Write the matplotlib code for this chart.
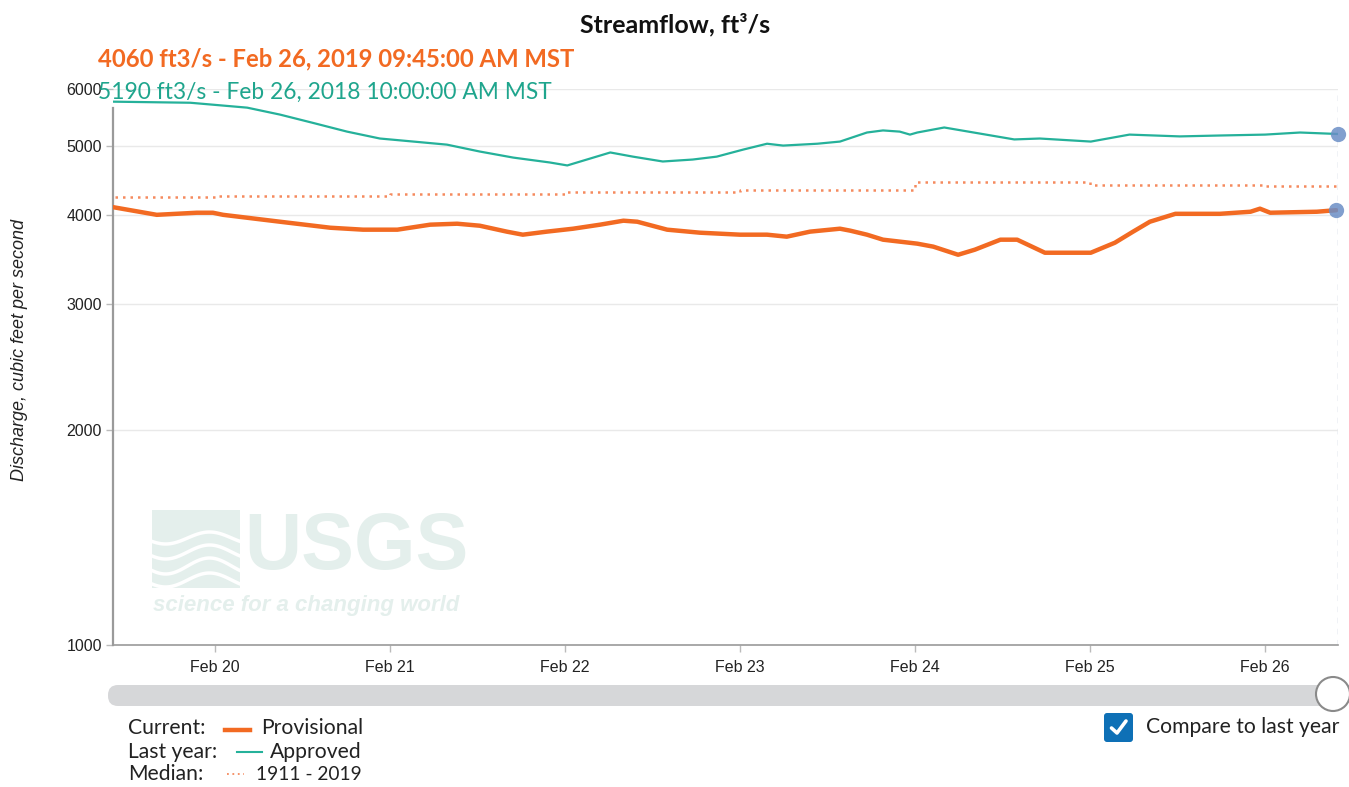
import numpy as np
import matplotlib
matplotlib.use('Agg')
import matplotlib.pyplot as plt
import matplotlib.dates as mdates
from matplotlib.ticker import FixedLocator, FixedFormatter, NullLocator
from matplotlib.patches import FancyBboxPatch, Circle, Rectangle
from matplotlib.lines import Line2D

W, H = 1349, 787

# ---------------- data ----------------
# hours since 2019-02-19 00:00 MST
current_hours = [10.0, 16.0, 21.5, 23.7, 25.1, 32.9, 39.8, 44.3, 49.0, 53.5, 57.2, 60.3,
                 64.0, 66.2, 69.5, 73.1, 76.8, 80.0, 81.9, 86.0, 90.5, 96.0, 99.7, 102.4,
                 105.6, 109.7, 111.1, 113.4, 115.6, 120.3, 122.5, 125.9, 128.2, 131.7, 134.0,
                 137.8, 144.1, 147.4, 149.9, 152.2, 155.7, 161.8, 166.0, 167.3, 168.7, 175.1,
                 177.75]
current_cfs = [4100, 4000, 4027, 4027, 4000, 3912, 3837, 3813, 3813, 3875, 3887, 3862,
               3789, 3752, 3789, 3825, 3875, 3925, 3912, 3813, 3776, 3752, 3752, 3728,
               3789, 3825, 3801, 3752, 3692, 3645, 3610, 3517, 3575, 3692, 3692,
               3540, 3540, 3656, 3789, 3912, 4013, 4013, 4040, 4080, 4027, 4040,
               4060]

lastyear_hours = [10.0, 20.6, 28.4, 32.9, 37.4, 42.1, 46.6, 51.2, 55.8, 60.3, 64.9, 69.9,
                  72.3, 78.2, 81.3, 85.4, 89.5, 92.8, 96.4, 99.7, 101.9, 106.6, 109.7,
                  113.4, 115.6, 117.9, 119.3, 120.3, 124.0, 133.6, 137.1, 144.1, 149.4,
                  156.3, 161.8, 168.0, 172.8, 178.0]
lastyear_cfs = [5760, 5740, 5650, 5525, 5380, 5230, 5115, 5065, 5015, 4905, 4810, 4735,
                4690, 4890, 4825, 4750, 4780, 4825, 4935, 5030, 5000, 5030, 5065,
                5215, 5250, 5230, 5180, 5215, 5300, 5100, 5115, 5065, 5180,
                5150, 5165, 5180, 5215, 5190]

median_days = ['2019-02-19', '2019-02-20', '2019-02-21', '2019-02-22', '2019-02-23',
               '2019-02-24', '2019-02-25', '2019-02-26', '2019-02-27']
median_cfs = [4230, 4250, 4280, 4310, 4340, 4440, 4410, 4395, 4395]

y_ticks = [1000, 2000, 3000, 4000, 5000, 6000]
y_tick_labels = ['1000', '2000', '3000', '4000', '5000', '6000']
x_tick_days = ['2019-02-20', '2019-02-21', '2019-02-22', '2019-02-23',
               '2019-02-24', '2019-02-25', '2019-02-26']

title_text = 'Streamflow, ft\u00b3/s'
current_label = '4060 ft3/s - Feb 26, 2019 09:45:00 AM MST'
lastyear_label = '5190 ft3/s - Feb 26, 2018 10:00:00 AM MST'

# ---------------- helpers ----------------
start = np.datetime64('2019-02-19T00:00')


def to_time(hours):
    return start + (np.array(hours) * 60).round().astype('timedelta64[m]')


def fx(x):
    return x / W


def fy(y):
    return 1 - y / H


ORANGE = '#f26a22'
TEAL = '#25b19a'
MEDIAN = '#f58a5e'

fig = plt.figure(figsize=(W / 100, H / 100), dpi=100)

# background overlay (pixel coordinates)
bg = fig.add_axes([0, 0, 1, 1], zorder=0)
bg.set_xlim(0, W)
bg.set_ylim(H, 0)
bg.axis('off')

# main axes
ax = fig.add_axes([fx(113), fy(645), (1338 - 113) / W, (645 - 89) / H], zorder=1)
ax.patch.set_alpha(0)

t_cur = to_time(current_hours)
t_last = to_time(lastyear_hours)
t_med = np.array(median_days, dtype='datetime64[m]')

ax.step(t_med, median_cfs, where='post', color=MEDIAN, lw=1.8,
        linestyle=(0, (1, 2.0)), zorder=2)
ax.plot(t_last, lastyear_cfs, color=TEAL, lw=1.6, zorder=3)
ax.plot(t_cur, current_cfs, color=ORANGE, lw=3.2, zorder=4, solid_capstyle='round')

t_end_cur = t_cur[-1]
t_end_last = t_last[-1]
ax.plot([t_end_last], [lastyear_cfs[-1]], 'o', ms=11, color='#6b8ec6', alpha=0.85,
        clip_on=False, zorder=5, mec='none')
ax.plot([t_end_cur], [current_cfs[-1]], 'o', ms=11, color='#6b8ec6', alpha=0.85,
        clip_on=False, zorder=5, mec='none')

x_left = to_time([10.0])[0]
x_right = to_time([178.0])[0]
ax.set_xlim(x_left, x_right)
ax.axvline(x_right, color='#b5c0d2', lw=1, linestyle=(0, (4, 4)), zorder=1)

ax.set_yscale('log')
ax.set_ylim(1000, 6000)
ax.yaxis.set_major_locator(FixedLocator(y_ticks))
ax.yaxis.set_major_formatter(FixedFormatter(y_tick_labels))
ax.yaxis.set_minor_locator(NullLocator())
ax.grid(axis='y', color='#e9e9e9', lw=1, zorder=0)

ax.xaxis.set_major_locator(FixedLocator(mdates.date2num(np.array(x_tick_days, dtype='datetime64[m]'))))
ax.xaxis.set_major_formatter(mdates.DateFormatter('%b %d'))

for s in ['top', 'right']:
    ax.spines[s].set_visible(False)
ax.spines['left'].set_color('#9a9a9a')
ax.spines['left'].set_linewidth(1.6)
ax.spines['left'].set_bounds(1000, 5650)
ax.spines['bottom'].set_color('#9a9a9a')
ax.spines['bottom'].set_linewidth(1.2)

ax.tick_params(axis='both', which='major', length=5, width=1, color='#bbbbbb',
               labelsize=11.5, labelcolor='#222222')
for lab in ax.get_xticklabels() + ax.get_yticklabels():
    lab.set_fontfamily(['Liberation Sans', 'DejaVu Sans'])
ax.tick_params(axis='x', pad=6)
ax.tick_params(axis='y', pad=3)

# ---------------- texts ----------------
fig.text(fx(675), fy(25), title_text, ha='center', va='center', fontsize=18,
         fontweight='bold', family=['Lato', 'DejaVu Sans'], color='#111111', zorder=10)
fig.text(fx(98), fy(59), current_label, ha='left', va='center', fontsize=17.2,
         fontweight='bold', family=['Lato', 'DejaVu Sans'], color=ORANGE, zorder=10)
fig.text(fx(98), fy(92), lastyear_label, ha='left', va='center', fontsize=16.4,
         family=['Lato', 'DejaVu Sans'], color='#1fa58d', zorder=10)
fig.text(fx(20), fy(350), 'Discharge, cubic feet per second', rotation=90,
         ha='center', va='center', fontsize=13, style='italic',
         family=['Liberation Sans', 'DejaVu Sans'], color='#222222', zorder=10)

# ---------------- watermark ----------------
WM = '#e4efec'
bg.add_patch(Rectangle((152, 510), 88, 78, fc=WM, ec='none', zorder=1))
xs = np.linspace(152, 240, 60)
for base, amp in [(538, 6), (552, 7), (566, 8), (580, 7)]:
    bg.plot(xs, base + amp * np.sin((xs - 152) / 88 * 2 * np.pi + 0.6), color='white',
            lw=2.5, zorder=2)
bg.text(356, 549, 'USGS', ha='center', va='center', fontsize=57, fontweight='bold',
        family=['Liberation Sans', 'DejaVu Sans'], color=WM, zorder=1)
bg.text(306, 606, 'science for a changing world', ha='center', va='center', fontsize=16,
        fontweight='bold', style='italic',
        family=['Liberation Sans', 'DejaVu Sans'], color=WM, zorder=1)

# ---------------- slider ----------------
bg.add_patch(FancyBboxPatch((108, 685), 1232, 21, boxstyle='round,pad=0,rounding_size=10',
                            fc='#d6d7d9', ec='none', zorder=3))
bg.add_patch(Circle((1333, 694), 17, fc='white', ec='#8a8a8a', lw=1.5, zorder=4))

# ---------------- legend ----------------
LF = dict(fontsize=15.2, family=['Lato', 'DejaVu Sans'], color='#222222', va='center', zorder=5)
LF_num = dict(LF, fontsize=13.8)
bg.text(128, 728, 'Current:', ha='left', **LF)
bg.text(128, 752, 'Last year:', ha='left', **LF)
bg.text(128, 774, 'Median:', ha='left', **LF)
bg.text(363, 728, 'Provisional', ha='right', **LF)
bg.text(362, 752, 'Approved', ha='right', **LF)
bg.text(362, 774, '1911 - 2019', ha='right', **LF_num)
bg.add_line(Line2D([225, 250], [730, 730], color=ORANGE, lw=3.2, zorder=5))
bg.add_line(Line2D([237, 262], [752, 752], color=TEAL, lw=1.5, zorder=5))
bg.add_line(Line2D([227, 244], [774, 774], color=MEDIAN, lw=1.3, linestyle=(0, (1, 2)), zorder=5))

# checkbox
bg.add_patch(FancyBboxPatch((1104, 713), 29, 29, boxstyle='round,pad=0,rounding_size=3',
                            fc='#0e70b6', ec='none', zorder=5))
bg.add_line(Line2D([1111.5, 1117, 1126], [728, 733, 721], color='white', lw=2.6,
                   solid_capstyle='round', solid_joinstyle='round', zorder=6))
bg.text(1146, 727, 'Compare to last year', ha='left', **LF)

fig.savefig('out.png', dpi=100)
